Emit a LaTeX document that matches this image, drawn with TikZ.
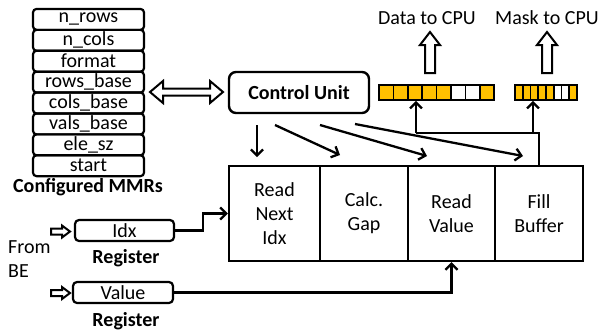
\documentclass[tikz,border=0pt]{standalone}
\usepackage{fontspec}
\setmainfont{Carlito}
\usetikzlibrary{arrows.meta,calc}
\definecolor{bufyellow}{HTML}{FFC000}
\begin{document}
\begin{tikzpicture}[x=1pt,y=-1pt,
  font=\fontsize{20}{24}\selectfont,
  mmr/.style={draw, line width=2.2pt, rounded corners=3.5pt, minimum width=111pt,
    minimum height=20.9pt, inner sep=0pt},
  regbox/.style={draw, line width=2.2pt, rounded corners=4pt, minimum width=99pt,
    minimum height=21pt, inner sep=0pt},
  stage/.style={draw, line width=2.4pt, minimum height=95pt, inner sep=0pt, align=center},
  arr/.style={line width=2.3pt, -{Straight Barb[length=6pt,width=12pt,line width=2.3pt]}},
  wire/.style={line width=2.3pt},
  hollow/.style={draw, line width=2pt, fill=white, line join=miter},
  cell/.style={draw, line width=1.6pt, inner sep=0pt, minimum height=15pt},
  lbl/.style={inner sep=0pt}]
\useasboundingbox (0,0) rectangle (600,333);

% configured memory-mapped registers
\foreach \t [count=\i from 0] in {n\_rows,n\_cols,format,rows\_base,cols\_base,vals\_base,ele\_sz,start}
  \node[mmr] (m\i) at (88.5,{19.4+20.9*\i}) {\t};
\node[lbl, font=\fontsize{20}{24}\selectfont\bfseries] (mmrlbl) at (88,187) {Configured MMRs};

% control unit
\node[draw, line width=2.4pt, rounded corners=7pt, minimum width=140pt, minimum height=41pt,
  font=\fontsize{20}{24}\selectfont\bfseries] (cu) at (299,92.5) {Control Unit};

% pipeline stages
\node[stage, minimum width=91pt] (c1) at (274.5,213.5) {Read\\Next\\Idx};
\node[stage, minimum width=88pt] (c2) at (364,213.5) {Calc.\\Gap};
\node[stage, minimum width=87pt] (c3) at (451.5,213.5) {Read\\Value};
\node[stage, minimum width=88pt] (c4) at (539,213.5) {Fill\\Buffer};

% input registers
\node[regbox] (idx) at (124.5,230.5) {Idx};
\node[lbl, font=\fontsize{20}{24}\selectfont\bfseries] (idxlbl) at (126,258) {Register};
\node[regbox, minimum width=100pt] (val) at (123,292.5) {Value};
\node[lbl, font=\fontsize{20}{24}\selectfont\bfseries] (vallbl) at (126,321) {Register};
\node[lbl, anchor=west] (from) at (8,247) {From};
\node[lbl, anchor=west] (be) at (8,271) {BE};

% output buffers
\foreach \c [count=\i from 0] in {bufyellow,bufyellow,bufyellow,bufyellow,bufyellow,white,white,bufyellow}
  \node[cell, fill=\c, minimum width=14.4pt] (d\i) at ({386.2+14.4*\i},92.5) {};
\draw[line width=2.4pt] (379,85) rectangle (494,100);
\foreach \c [count=\i from 0] in {bufyellow,bufyellow,bufyellow,bufyellow,bufyellow,white,white,bufyellow}
  \node[cell, fill=\c, minimum width=7.75pt] (k\i) at ({518.9+7.75*\i},92.5) {};
\draw[line width=2.4pt] (515,85) rectangle (577,100);
\node[lbl] (dlbl) at (427,18) {Data to CPU};
\node[lbl] (klbl) at (547,18) {Mask to CPU};

% hollow arrows
\draw[hollow] (150,92) -- (163,81) -- (163,88.5) -- (210,88.5) -- (210,81) -- (223,92)
  -- (210,103) -- (210,95.5) -- (163,95.5) -- (163,103) -- cycle;
\foreach \x in {430,547}
  \draw[hollow] (\x-5,73) -- (\x-5,45) -- (\x-10,45) -- (\x,32) -- (\x+10,45)
    -- (\x+5,45) -- (\x+5,73) -- cycle;
\foreach \y in {231.5,293}
  \draw[hollow] (51,\y-3) -- (62,\y-3) -- (62,\y-6) -- (70,\y) -- (62,\y+6)
    -- (62,\y+3) -- (51,\y+3) -- cycle;

% control unit to stages
\coordinate (s1) at (257,125); \coordinate (e1) at (257,157);
\coordinate (s2) at (275,125); \coordinate (e2) at (340,155);
\coordinate (s3) at (320,125); \coordinate (e3) at (427,156);
\coordinate (s4) at (355,124); \coordinate (e4) at (523,156);
\draw[arr] (s1) -- (e1);
\draw[arr] (s2) -- (e2);
\draw[arr] (s3) -- (e3);
\draw[arr] (s4) -- (e4);

% register inputs
\draw[arr] (idx.east) -- ++(28,0) |- (c1.west);
\draw[arr] (val.east) -| (c3.south);

% fill buffer to output buffers
\coordinate (fj) at (539,133);
\coordinate (dj) at (416,133);
\coordinate (kj) at (533,133);
\draw[wire] (c4.north) -- (fj) -- (dj);
\draw[arr] (dj) -- (dj |- d2.south);
\draw[arr] (kj) -- (kj |- k2.south);
\end{tikzpicture}
\end{document}
